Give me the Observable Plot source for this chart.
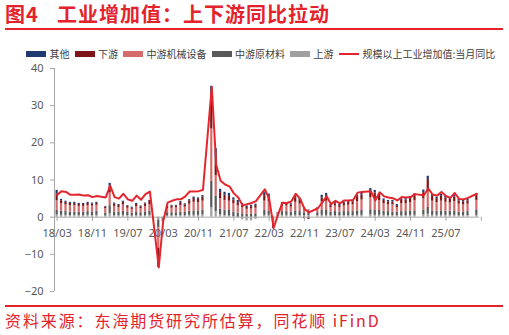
<!DOCTYPE html>
<html><head><meta charset="utf-8">
<script src="https://cdn.jsdelivr.net/npm/d3@7"></script>
<script src="https://cdn.jsdelivr.net/npm/@observablehq/plot@0.6"></script>
<style>
body{margin:0;width:509px;height:335px;position:relative;background:#fff;overflow:hidden;font-family:"Noto Sans CJK SC","Noto Sans",sans-serif;}
.title{position:absolute;top:3px;font-size:20px;line-height:22px;font-weight:bold;color:#e3222c;white-space:nowrap;letter-spacing:1px;}
#rule1{position:absolute;left:5px;top:28px;width:498px;height:2px;background:#e3222c;}
#rule2{position:absolute;left:5px;top:305px;width:498px;height:2px;background:#e3222c;}
#legend{position:absolute;left:26px;top:48px;display:flex;gap:5px;font-size:10px;line-height:12px;color:#404040;white-space:nowrap;align-items:center;}
#legend .item{display:flex;align-items:center;}
#legend .sw{width:20px;height:6px;margin-right:3.5px;}
#legend .ln{width:20px;height:2px;margin-right:4px;background:#e3262d;}
#chart{position:absolute;left:0;top:60px;}
#caption{position:absolute;left:5px;top:311px;font-size:16px;line-height:18px;color:#e3222c;white-space:nowrap;letter-spacing:1.9px;}
</style></head>
<body>
<div class="title" style="left:5px">图4</div>
<div class="title" style="left:57px">工业增加值：上下游同比拉动</div>
<div id="rule1"></div>
<div id="legend"></div>
<div id="chart"></div>
<div id="rule2"></div>
<div id="caption">资料来源：东海期货研究所估算，同花顺 iFinD</div>
<script>
const months = [
 "18/03","18/04","18/05","18/06","18/07","18/08","18/09","18/10","18/11","18/12",
 "19/02","19/03","19/04","19/05","19/06","19/07","19/08","19/09","19/10","19/11","19/12",
 "20/02","20/03","20/04","20/05","20/06","20/07","20/08","20/09","20/10","20/11","20/12",
 "21/02","21/03","21/04","21/05","21/06","21/07","21/08","21/09","21/10","21/11","21/12",
 "22/02","22/03","22/04","22/05","22/06","22/07","22/08","22/09","22/10","22/11","22/12",
 "23/02","23/03","23/04","23/05","23/06","23/07","23/08","23/09","23/10","23/11","23/12",
 "24/02","24/03","24/04","24/05","24/06","24/07","24/08","24/09","24/10","24/11","24/12",
 "25/02","25/03","25/04","25/05","25/06","25/07","25/08","25/09","25/10","25/11","25/12",
 "26/02"];
const upstream = [
 .6,.5,.5,.4,.5,.4,.4,.5,.4,.5,
 .3,.9,.4,.4,.5,.4,.3,.4,.3,.4,.5,
 -.8,-.3,.3,.3,.4,.4,.4,.5,.5,.5,.6,
 2.5,1.5,.6,.4,.3,.1,-.2,-.7,-1.0,-1.0,-.6,
 .5,.5,.3,.3,.5,.5,.4,.5,.4,.4,.4,
 .4,.5,.5,.4,.4,.4,.4,.4,.4,.5,.5,
 .6,.5,.5,.5,.4,.4,.4,.4,.4,.5,.5,
 .6,.8,.5,.5,.5,.5,.5,.5,.4,.4,.4,
 .5];
const rawMaterials = [
 1.2,1.1,1.0,1.0,.9,.9,1.0,1.0,1.0,1.1,
 .8,2.2,1.0,.9,1.1,.9,.8,1.0,.9,1.0,1.1,
 -2.0,-.4,.9,.9,.8,1.0,.9,1.1,1.2,1.2,1.3,
 7.2,4.2,1.6,1.5,1.5,1.3,1.1,.9,.8,.8,.9,
 1.3,1.2,-.3,.4,1.0,1.0,.9,1.2,1.1,.8,.7,
 .8,1.3,1.3,1.0,1.1,1.0,1.1,1.1,1.1,1.2,1.3,
 1.4,1.3,1.3,1.1,1.1,1.0,.9,1.1,1.1,1.1,1.2,
 1.3,1.8,1.2,1.1,1.2,1.1,1.1,1.2,1.0,1.0,1.1,
 1.3];
const machinery = [
 2.6,2.0,1.8,1.7,1.7,1.6,1.5,1.6,1.6,1.6,
 1.2,3.4,1.5,1.3,1.7,1.1,1.0,1.4,1.1,1.5,1.8,
 -5.5,-.3,1.1,1.2,1.3,1.7,1.4,1.9,2.3,2.2,2.4,
 14.0,5.5,2.8,2.6,2.5,2.2,2.0,1.7,1.3,1.4,1.5,
 2.5,2.4,-1.6,.3,1.4,1.5,1.4,2.3,2.0,1.0,.6,
 .9,2.3,2.5,1.2,1.5,1.2,1.5,1.7,1.8,2.5,2.8,
 3.2,3.1,2.6,2.0,1.8,1.9,1.3,2.1,2.1,2.3,2.7,
 3.0,4.2,2.6,2.3,2.6,2.4,2.2,2.5,2.1,1.9,2.0,
 2.7];
const downstream = [
 1.9,.8,.7,.6,.6,.5,.5,.6,.5,.5,
 .4,1.8,.6,.5,.7,.5,.4,.6,.5,.6,.8,
 -4.0,-.1,.6,.6,.5,.8,.6,.9,1.0,.9,1.1,
 9.0,4.5,1.6,1.4,1.3,1.0,.8,.6,.5,.6,.7,
 1.5,1.4,-.9,.1,.7,.6,.6,1.2,1.0,-.4,-.6,
 .2,1.1,1.3,.5,.6,.5,.7,.8,.8,1.2,1.4,
 1.7,1.6,1.4,.9,.8,.8,.5,.9,1.0,1.1,1.3,
 1.7,3.3,1.3,1.1,1.3,1.2,1.0,1.2,.9,.8,.9,
 1.3];
const other = [
 .9,.4,.3,.3,.3,.3,.3,.3,.3,.3,
 .2,.8,.3,.3,.3,.2,.2,.3,.2,.3,.3,
 -1.2,-.1,.2,.2,.2,.3,.3,.3,.4,.4,.4,
 2.5,2.7,.9,.8,.8,.6,.6,.5,.4,.4,.4,
 .8,.7,-.3,.1,.3,.3,.3,.5,.5,.3,.2,
 .2,.7,.8,.3,.3,.3,.3,.3,.4,.5,.6,
 .8,.7,.5,.4,.4,.4,.3,.4,.4,.5,.6,
 .7,.9,.5,.4,.5,.5,.4,.5,.4,.4,.4,
 .5];
const ivaYoY = [
 6.0,7.0,6.8,6.0,6.0,6.1,5.8,5.9,5.4,5.7,
 5.3,8.5,5.4,5.0,6.3,4.8,4.4,5.8,4.7,6.2,6.9,
 -13.5,-1.1,3.9,4.4,4.8,4.8,5.6,6.9,6.9,7.0,7.3,
 35.1,14.1,9.8,8.8,8.3,6.4,5.3,3.1,3.5,3.8,4.3,
 7.5,5.0,-2.9,0.7,3.9,3.8,4.2,6.3,5.0,2.2,1.3,
 2.4,3.9,5.6,3.5,4.4,3.7,4.5,4.5,4.6,6.6,6.8,
 7.0,4.5,6.7,5.6,5.3,5.1,4.5,5.4,5.3,5.4,6.2,
 5.9,7.7,6.1,5.8,6.8,5.7,5.2,6.5,4.9,4.8,5.2,
 6.3];
const xTickLabels = ["18/03","18/11","19/07","20/03","20/11","21/07","22/03","22/11","23/07","24/03","24/11","25/07"];
const xTickMarks = [...xTickLabels, "26/03"];
const yTicks = [-20,-10,0,10,20,30,40];
const seriesNames = ["上游","中游原材料","中游机械设备","下游","其他"];
const seriesColors = ["#a0a0a0","#595959","#d56b6b","#7f1416","#1f3a70"];
const lineName = "规模以上工业增加值:当月同比";
const lineColor = "#e3262d";
const legendOrder = ["其他","下游","中游机械设备","中游原材料","上游"];

const idx = s => { const [y, m] = s.split("/").map(Number); return (y - 18) * 12 + (m - 3); };
const seriesValues = [upstream, rawMaterials, machinery, downstream, other];
const bars = [];
months.forEach((mo, i) => seriesNames.forEach((s, k) => bars.push({i: idx(mo), series: s, value: seriesValues[k][i]})));
const lineData = months.map((mo, i) => ({i: idx(mo), value: ivaYoY[i]}));
const xDomain = [-0.6, 95.6];

const chart = Plot.plot({
  width: 509, height: 240,
  marginTop: 8, marginBottom: 9, marginLeft: 54, marginRight: 30,
  x: {domain: xDomain, axis: null},
  y: {domain: [-20, 40], axis: null},
  color: {domain: seriesNames, range: seriesColors},
  style: {fontFamily: "'Noto Sans', 'DejaVu Sans', sans-serif", fontSize: "11px", background: "transparent"},
  marks: [
    Plot.axisY({ticks: yTicks, tickSize: 4, tickPadding: 7, stroke: "#a6a6a6", fill: "#595959", label: null, fontSize: 11}),
    Plot.ruleX([xDomain[0]], {y1: -20, y2: 40, stroke: "#a6a6a6"}),
    Plot.rectY(bars, {x1: d => d.i - 0.25, x2: d => d.i + 0.25, y: "value", fill: "series"}),
    Plot.ruleY([0], {stroke: "#a6a6a6"}),
    Plot.ruleX(xTickMarks, {x: idx, y1: 0, y2: -1.1, stroke: "#a6a6a6"}),
    Plot.text(xTickLabels, {x: idx, y: 0, dy: 16, text: d => d, fill: "#595959", fontSize: 11}),
    Plot.line(lineData, {x: "i", y: "value", stroke: lineColor, strokeWidth: 2, strokeLinejoin: "round"})
  ]
});
document.getElementById("chart").appendChild(chart);

const legend = document.getElementById("legend");
legendOrder.forEach(name => {
  const it = document.createElement("div"); it.className = "item";
  const sw = document.createElement("div"); sw.className = "sw"; sw.style.background = seriesColors[seriesNames.indexOf(name)];
  const tx = document.createElement("span"); tx.textContent = name;
  it.append(sw, tx); legend.append(it);
});
{
  const it = document.createElement("div"); it.className = "item";
  const sw = document.createElement("div"); sw.className = "ln";
  const tx = document.createElement("span"); tx.textContent = lineName;
  it.append(sw, tx); legend.append(it);
}
</script>
</body></html>
